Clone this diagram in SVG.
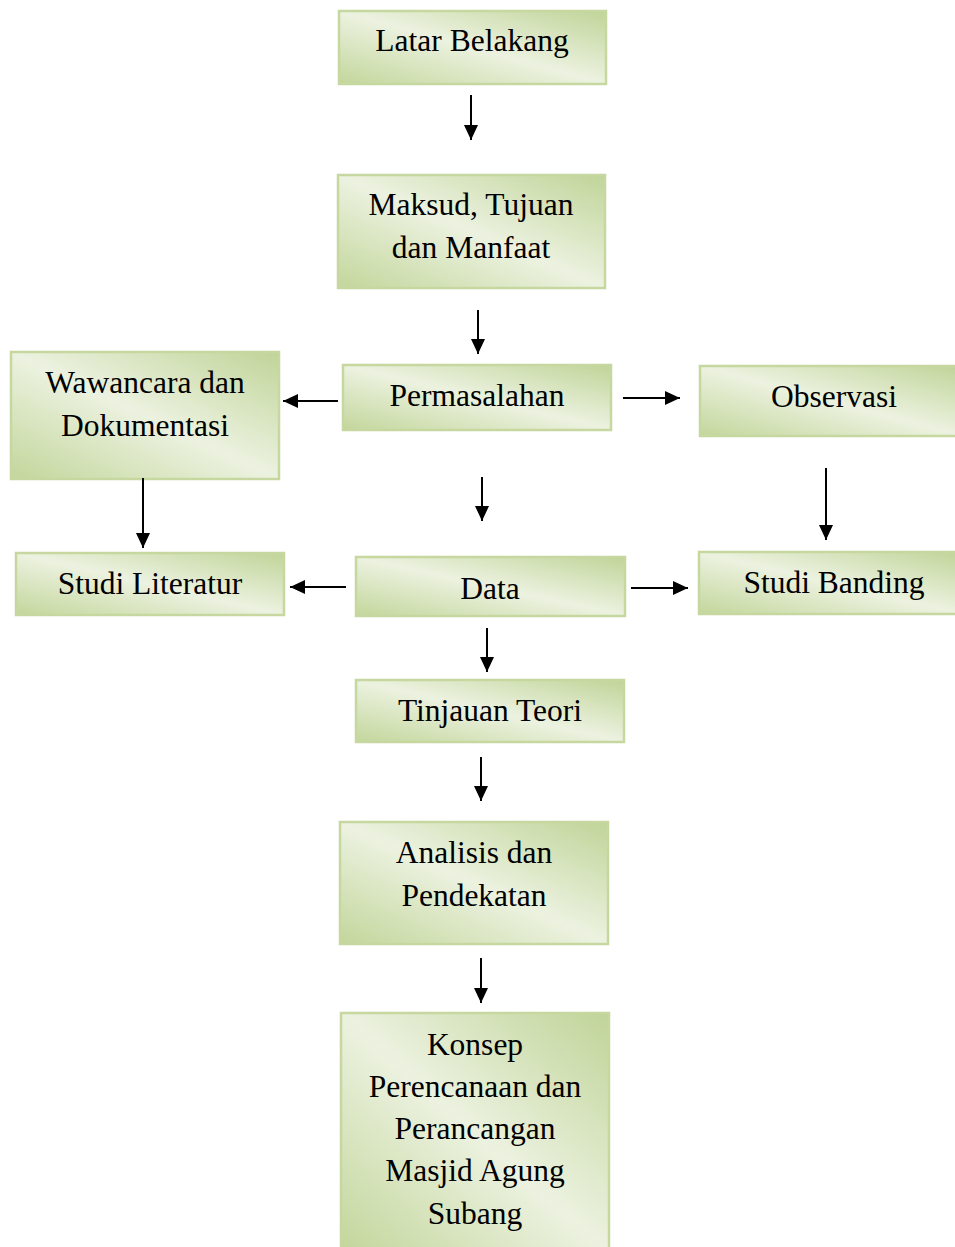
<svg xmlns="http://www.w3.org/2000/svg" width="955" height="1247" viewBox="0 0 955 1247">
<defs>
<linearGradient id="g" x1="1" y1="0" x2="0" y2="1">
<stop offset="0" stop-color="#c0d498"/>
<stop offset="0.5" stop-color="#ecf2e0"/>
<stop offset="1" stop-color="#c3d69b"/>
</linearGradient>
<marker id="ah" markerWidth="15" markerHeight="14" viewBox="0 0 15 14" refX="15" refY="7" orient="auto" markerUnits="userSpaceOnUse">
<path d="M0,0 L15,7 L0,14 Z" fill="#000"/>
</marker>
<style>
.box{fill:url(#g);stroke:#c6d8a0;stroke-width:2.5}
.t{font-family:"Liberation Serif","Times New Roman",serif;font-size:31.5px;fill:#000;text-anchor:middle}
.c{stroke:#000;stroke-width:2;fill:none;marker-end:url(#ah)}
</style>
</defs>
<rect width="955" height="1247" fill="#fff"/>
<g id="latar"><rect class="box" x="339" y="11" width="267" height="73"/><text class="t" x="472" y="51">Latar Belakang</text></g>
<g id="maksud"><rect class="box" x="338" y="175" width="267" height="113"/><text class="t" x="471" y="215">Maksud, Tujuan</text><text class="t" x="471" y="258">dan Manfaat</text></g>
<g id="permasalahan"><rect class="box" x="343" y="365" width="268" height="65"/><text class="t" x="477" y="406">Permasalahan</text></g>
<g id="wawancara"><rect class="box" x="11" y="352" width="268" height="127"/><text class="t" x="145" y="393">Wawancara dan</text><text class="t" x="145" y="436">Dokumentasi</text></g>
<g id="observasi"><rect class="box" x="700" y="366" width="262" height="70"/><text class="t" x="834" y="407">Observasi</text></g>
<g id="studi-literatur"><rect class="box" x="16" y="553" width="268" height="62"/><text class="t" x="150" y="594">Studi Literatur</text></g>
<g id="data"><rect class="box" x="356" y="557" width="269" height="59"/><text class="t" x="490" y="599">Data</text></g>
<g id="studi-banding"><rect class="box" x="699" y="552" width="263" height="62"/><text class="t" x="834" y="593">Studi Banding</text></g>
<g id="tinjauan"><rect class="box" x="356" y="680" width="268" height="62"/><text class="t" x="490" y="721">Tinjauan Teori</text></g>
<g id="analisis"><rect class="box" x="340" y="822" width="268" height="122"/><text class="t" x="474" y="863">Analisis dan</text><text class="t" x="474" y="906">Pendekatan</text></g>
<g id="konsep"><rect class="box" x="341" y="1013" width="268" height="240"/><text class="t" x="475" y="1055">Konsep</text><text class="t" x="475" y="1097">Perencanaan dan</text><text class="t" x="475" y="1139">Perancangan</text><text class="t" x="475" y="1181">Masjid Agung</text><text class="t" x="475" y="1224">Subang</text></g>
<g id="connectors">
<line class="c" x1="471" y1="95" x2="471" y2="140"/>
<line class="c" x1="478" y1="310" x2="478" y2="354"/>
<line class="c" x1="338" y1="401" x2="283" y2="401"/>
<line class="c" x1="623" y1="398" x2="680" y2="398"/>
<line class="c" x1="482" y1="477" x2="482" y2="521"/>
<line class="c" x1="826" y1="468" x2="826" y2="540"/>
<line class="c" x1="143" y1="478" x2="143" y2="548"/>
<line class="c" x1="346" y1="587" x2="290" y2="587"/>
<line class="c" x1="631" y1="588" x2="688" y2="588"/>
<line class="c" x1="487" y1="628" x2="487" y2="672"/>
<line class="c" x1="481" y1="757" x2="481" y2="801"/>
<line class="c" x1="481" y1="958" x2="481" y2="1003"/>
</g>
</svg>
